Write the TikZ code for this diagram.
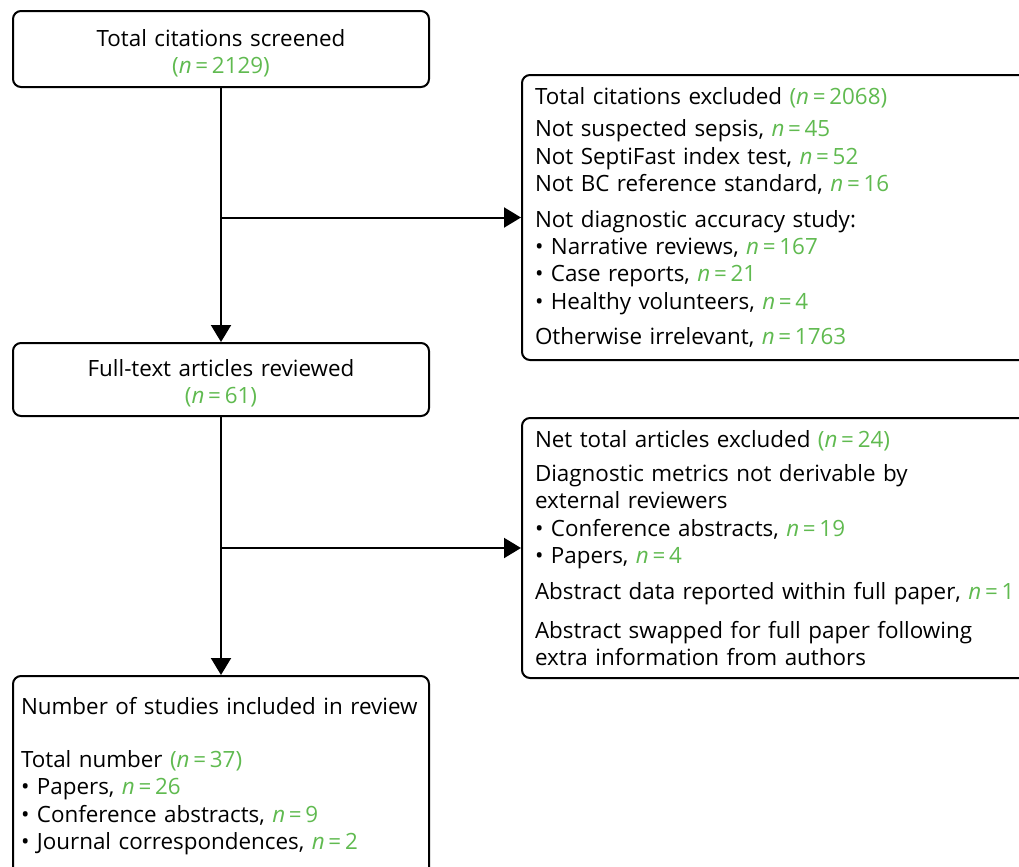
\documentclass[tikz,border=0pt]{standalone}
\usepackage{fontspec}
\setmainfont{Open Sans}
\usetikzlibrary{arrows.meta}

\definecolor{countgreen}{RGB}{96,186,80}
\newcommand{\cnt}[1]{{\color{countgreen}\textit{n}\,=\,#1}}
\newcommand{\topstrut}{\rule{0pt}{12.5pt}}

\begin{document}
\begin{tikzpicture}[
    x=0.5pt, y=-0.5pt,
    line width=1pt,
    >={Triangle[width=10pt,length=8.5pt]},
    box/.style={draw, rounded corners=4pt, anchor=north west, inner ysep=0pt,
        font=\fontsize{11.2}{13.7}\selectfont},
    leftbox/.style={box, inner xsep=4pt, text width=200pt},
    rightbox/.style={box, align=left, inner xsep=6.5pt, text width=252pt}
]

\clip (0,0) rectangle (1019,867);

% Left column
\node[leftbox, align=center, minimum height=38pt] (screened) at (12,10)
    {\topstrut Total citations screened\\{\color{countgreen}(\textit{n}\,=\,2129)}};
\node[leftbox, align=center, minimum height=36.5pt] (reviewed) at (12,342)
    {\topstrut Full-text articles reviewed\\{\color{countgreen}(\textit{n}\,=\,61)}};
\node[leftbox, align=left, minimum height=100pt] (included) at (12,675)
    {\mbox{Number of studies included in review}\\[13pt]
     Total number {\color{countgreen}(\textit{n}\,=\,37)}\\
     • Papers, \cnt{26}\\
     • Conference abstracts, \cnt{9}\\
     • Journal correspondences, \cnt{2}};

% Right column
\node[rightbox, minimum height=142.5pt] (excluded) at (521,74)
    {Total citations excluded {\color{countgreen}(\textit{n}\,=\,2068)}\\[2.5pt]
     Not suspected sepsis, \cnt{45}\\
     Not SeptiFast index test, \cnt{52}\\
     Not BC reference standard, \cnt{16}\\[4pt]
     Not diagnostic accuracy study:\\
     • Narrative reviews, \cnt{167}\\
     • Case reports, \cnt{21}\\
     • Healthy volunteers, \cnt{4}\\[4pt]
     Otherwise irrelevant, \cnt{1763}};
\node[rightbox, minimum height=130pt] (netexcl) at (521,417)
    {Net total articles excluded {\color{countgreen}(\textit{n}\,=\,24)}\\[3.5pt]
     Diagnostic metrics not derivable by\\
     external reviewers\\
     • Conference abstracts, \cnt{19}\\
     • Papers, \cnt{4}\\[4pt]
     Abstract data reported within full paper, \cnt{1}\\[6pt]
     Abstract swapped for full paper following\\
     extra information from authors};

% Arrows
\draw[->] (screened) -- (reviewed);
\draw[->] (reviewed) -- (included);
\draw[->] (screened.south |- excluded.west) -- (excluded.west);
\draw[->] (reviewed.south |- netexcl.west) -- (netexcl.west);

\end{tikzpicture}
\end{document}
